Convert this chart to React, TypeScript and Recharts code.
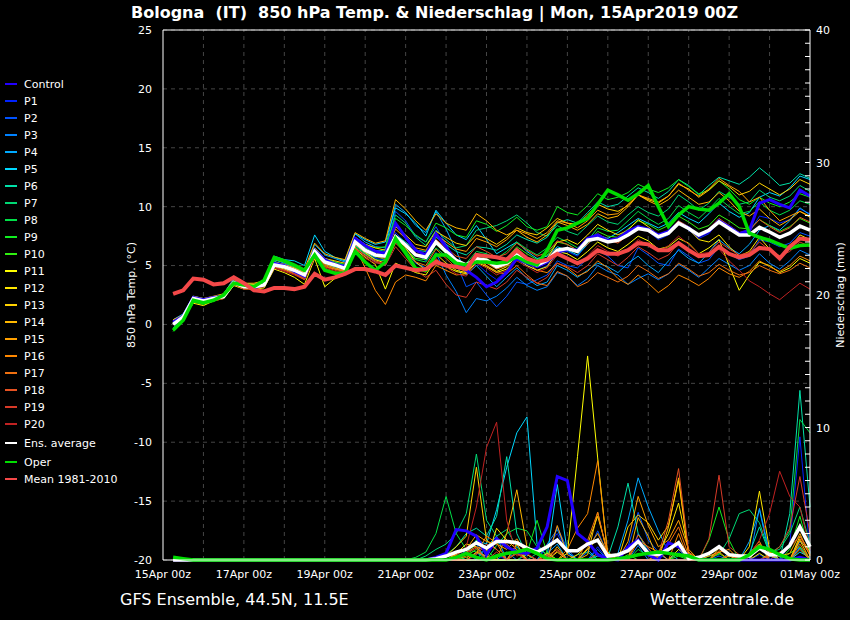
import React from "react";
import {
  ComposedChart,
  Line,
  XAxis,
  YAxis,
  CartesianGrid,
  ReferenceLine,
  Legend,
} from "recharts";

// forecast steps (hours after 15Apr 00z)
const HOURS = [
  6, 12, 18, 24, 30, 36, 42, 48, 54, 60, 66, 72, 78, 84, 90, 96,
  102, 108, 114, 120, 126, 132, 138, 144, 150, 156, 162, 168, 174, 180, 186, 192,
  198, 204, 210, 216, 222, 228, 234, 240, 246, 252, 258, 264, 270, 276, 282, 288,
  294, 300, 306, 312, 318, 324, 330, 336, 342, 348, 354, 360, 366, 372, 378, 384,
];
const DAY_LINES = [24, 48, 72, 96, 120, 144, 168, 192, 216, 240, 264, 288, 312, 336, 360];
const X_TICKS = [0, 48, 96, 144, 192, 240, 288, 336, 384];
const X_LABELS = [
  "15Apr 00z", "17Apr 00z", "19Apr 00z", "21Apr 00z", "23Apr 00z",
  "25Apr 00z", "27Apr 00z", "29Apr 00z", "01May 00z",
];
const TEMP_TICKS = [-20, -15, -10, -5, 0, 5, 10, 15, 20, 25];
const PRECIP_TICKS = Array.from({ length: 41 }, (_, k) => k);

// 850 hPa temperature (°C)
const CONTROL_T = [0.2,0.7,2.3,2.1,2.3,2.4,3.6,3.3, 3.1,3.4,5.2,5.0,4.5,4.1,6.3,5.5, 5.1,4.9,7.3,6.7,6.2,6.0,8.6,7.4, 6.3,5.9,7.7,6.6,5.3,4.6,4.0,3.2, 3.6,4.4,5.6,5.2,4.9,5.3,6.1,6.4, 6.3,7.3,7.6,7.1,7.3,7.9,8.3,8.1, 7.6,7.9,8.6,8.2,7.5,7.9,8.8,8.3, 7.7,8.0,10.3,10.6,10.2,9.9,11.4,10.9];
const P1_T = [0.3,0.8,2.3,2.1,2.2,2.4,3.6,3.2, 3.1,3.4,5.1,4.8,4.5,4.0,6.0,5.2, 4.9,4.6,6.8,6.0,5.6,5.5,7.8,6.9, 6.0,5.4,6.8,6.1,5.0,4.5,5.2,4.4, 3.8,4.6,5.5,5.0,4.6,5.0,6.0,6.2, 5.8,6.9,7.4,7.0,7.1,7.7,8.4,7.9, 7.2,7.6,8.8,8.0,7.3,7.7,8.9,8.2, 7.5,7.8,9.2,9.0,8.6,8.9,9.8,9.4];
const P2_T = [0.1,0.6,2.1,1.9,2.3,2.4,3.5,3.3, 3.3,3.5,5.3,5.1,4.8,4.4,6.5,5.6, 5.3,5.0,7.4,6.8,6.3,6.2,9.6,8.8, 7.5,7.0,8.3,6.8,5.2,3.2,3.6,2.5, 1.5,2.4,3.6,3.4,3.8,4.2,5.4,5.0, 4.8,5.6,6.3,5.8,5.0,4.8,6.5,5.9, 5.2,5.0,6.4,5.8,5.2,5.5,6.6,6.0, 5.5,5.8,7.2,7.0,6.6,6.9,7.8,7.5];
const P3_T = [0.2,0.7,2.2,2.0,2.1,2.3,3.5,3.1, 3.0,3.2,4.9,4.7,4.4,4.1,6.1,5.1, 4.8,4.4,6.5,5.9,5.3,5.0,7.0,6.2, 5.2,4.8,6.1,4.2,2.8,1.0,2.2,2.0, 2.4,3.1,4.0,3.3,2.9,3.2,4.4,4.1, 3.3,3.9,5.0,4.5,4.2,3.4,3.9,4.3, 3.8,4.3,5.1,4.6,4.0,4.8,5.6,5.1, 4.6,5.0,6.0,5.2,4.7,5.4,6.3,5.9];
const P4_T = [0.4,0.9,2.4,2.2,2.3,2.5,3.7,3.3, 3.3,3.5,5.5,5.2,4.9,4.5,6.8,5.9, 5.6,5.3,7.7,7.0,6.6,6.5,10.2,9.5, 8.4,7.8,9.6,8.1,6.3,4.2,5.0,4.1, 3.2,4.0,4.8,3.9,3.3,3.6,5.0,4.6, 4.0,4.6,5.2,4.9,4.4,5.2,5.8,5.0, 4.4,5.4,6.3,5.6,5.2,6.1,7.2,6.5, 6.0,6.8,8.0,8.4,8.0,8.8,9.9,9.3];
const P5_T = [0.0,0.6,2.0,1.9,2.2,2.6,3.9,3.5, 3.4,3.6,5.8,5.5,5.4,5.0,7.6,6.2, 5.7,5.4,7.7,7.2,6.8,7.0,9.9,9.4, 8.6,7.5,9.7,8.6,7.6,7.2,8.4,7.2, 6.0,6.5,7.0,6.2,5.6,5.8,6.6,6.3, 5.9,6.8,7.6,7.3,7.8,8.4,9.0,8.6, 8.2,8.6,9.5,9.0,8.6,9.4,10.3,9.6, 9.1,9.5,10.8,11.2,10.9,11.6,12.6,12.3];
const P6_T = [-0.3,0.5,2.1,1.9,2.1,2.3,3.4,3.1, 3.1,3.3,5.0,4.8,4.4,4.0,6.0,5.2, 4.9,4.7,6.7,6.1,5.7,5.9,7.6,7.0, 6.3,6.2,7.4,6.8,6.2,5.9,6.6,6.5, 6.3,6.8,7.6,7.2,6.9,7.4,8.6,8.9, 8.6,9.5,10.4,10.0,10.2,10.9,11.6,11.2, 10.7,11.3,12.3,11.8,11.0,11.8,12.5,12.2, 11.9,12.5,13.3,12.6,11.8,12.0,12.8,12.4];
const P7_T = [-0.4,0.4,2.0,1.8,2.0,2.4,3.5,3.2, 3.2,3.6,5.4,5.0,4.7,4.3,6.3,5.4, 5.1,4.8,7.1,6.5,6.1,6.4,9.3,8.6, 7.4,6.7,8.0,7.2,6.5,6.7,8.0,8.2, 8.4,8.8,9.3,8.6,7.8,7.5,8.4,7.9, 7.6,8.4,9.2,8.7,8.5,9.3,10.0,9.5, 9.2,9.8,11.0,10.4,9.7,10.3,11.3,10.8, 10.2,10.4,11.4,10.8,10.5,10.9,11.8,11.3];
const P8_T = [-0.5,0.3,2.0,1.8,2.1,2.3,3.4,3.2, 3.1,3.5,5.1,4.8,4.5,4.2,6.2,5.1, 4.8,4.5,6.6,6.0,5.5,5.4,7.2,6.3, 5.5,5.3,6.5,5.8,5.0,5.2,6.2,6.0, 5.6,6.2,7.0,6.4,5.9,6.5,7.4,7.0, 6.5,7.1,8.2,7.9,8.0,8.8,9.6,9.0, 8.5,9.0,10.1,9.5,9.0,9.8,10.7,10.0, 9.4,9.6,10.4,9.7,9.3,9.7,10.5,10.2];
const P9_T = [-0.6,0.3,1.9,1.7,2.0,2.4,3.6,3.3, 3.3,3.7,5.5,5.3,4.9,4.5,6.4,5.6, 5.3,5.1,7.3,6.8,6.5,6.6,9.0,8.4, 7.6,7.0,8.6,8.2,7.6,7.4,8.8,8.5, 7.9,8.4,9.1,8.3,8.0,8.3,10.0,9.5, 9.3,10.1,11.1,10.6,10.8,11.2,11.9,11.5, 11.2,11.6,12.3,11.7,11.1,11.4,12.2,11.5, 10.6,10.2,10.8,10.3,10.0,10.4,11.1,10.8];
const P10_T = [-0.4,0.5,2.1,1.9,2.2,2.4,3.5,3.2, 3.3,3.6,5.2,4.9,4.6,4.1,6.1,5.4, 5.1,4.8,6.9,6.3,5.8,5.5,7.2,6.4, 5.6,5.5,6.8,6.0,5.4,5.1,5.9,5.6, 5.1,5.6,6.6,6.0,5.5,5.9,7.0,6.8, 6.3,6.9,7.9,7.5,7.4,8.1,8.8,8.5, 8.0,8.4,9.2,8.7,8.1,8.4,9.3,8.8, 8.2,8.1,8.9,8.4,7.9,8.3,9.0,8.6];
const P11_T = [0.1,0.5,1.8,1.6,2.0,2.2,3.3,3.0, 3.0,3.1,4.7,4.4,4.0,3.4,5.6,3.2, 3.9,4.2,6.4,5.7,5.1,3.0,5.2,4.8, 4.4,4.2,5.5,4.9,4.5,4.3,5.3,4.9, 4.4,4.7,5.6,5.0,4.6,4.9,6.2,6.0, 5.5,6.2,7.0,6.5,6.2,6.8,7.5,7.1, 6.4,6.6,7.3,6.9,6.0,6.5,7.2,5.0, 2.9,4.2,5.3,5.0,4.4,4.8,5.6,5.2];
const P12_T = [0.2,0.7,2.2,1.9,2.1,2.3,3.6,3.2, 3.2,3.3,5.0,4.7,4.3,3.8,5.8,4.9, 4.7,4.5,6.8,6.1,5.5,5.2,7.4,6.5, 5.3,4.6,6.0,5.2,4.6,4.4,5.8,5.0, 4.5,4.9,5.8,5.4,5.1,5.6,7.0,7.2, 6.8,7.6,8.5,8.0,7.6,8.0,8.9,8.3, 7.6,7.9,8.7,8.1,7.2,7.0,7.6,6.6, 5.8,6.2,7.4,6.4,5.8,6.5,7.6,7.2];
const P13_T = [0.3,0.7,2.3,2.1,2.3,2.4,3.7,3.4, 3.4,3.6,5.3,5.1,4.8,4.4,6.5,5.6, 5.4,5.2,7.4,6.8,6.5,6.3,8.3,7.6, 6.8,6.6,7.9,7.4,6.9,6.7,7.6,7.3, 6.8,7.4,8.2,7.8,7.6,8.2,9.0,8.6, 8.5,9.3,10.2,9.8,9.6,10.1,11.0,10.6, 10.3,10.9,11.9,11.5,10.8,11.4,12.2,11.7, 11.0,11.3,12.0,11.5,11.0,11.5,12.3,11.9];
const P14_T = [0.4,0.8,2.4,2.2,2.4,2.6,3.8,3.5, 3.5,3.7,5.6,5.3,5.0,4.7,6.9,6.0, 5.7,5.5,7.8,7.3,6.9,7.1,10.6,9.8, 8.8,8.0,9.4,8.6,8.2,8.0,9.4,8.8, 8.0,7.6,8.0,7.4,7.0,7.6,8.7,8.4, 8.0,8.5,9.4,9.0,9.2,10.0,11.0,10.5, 10.1,10.6,11.4,10.8,10.2,10.4,11.2,10.5, 9.6,9.2,9.8,9.0,8.4,8.9,9.6,9.1];
const P15_T = [0.3,0.6,2.2,2.0,2.2,2.5,3.7,3.3, 3.2,3.4,5.2,5.0,4.7,4.2,6.3,5.5, 5.2,4.9,7.2,6.6,6.2,6.0,8.1,7.3, 6.5,6.3,7.6,7.0,6.4,6.2,7.3,7.0, 6.6,7.2,8.0,7.7,7.3,7.8,8.8,8.6, 8.2,8.8,9.7,9.3,9.4,10.2,11.0,10.7, 10.4,10.9,12.0,11.4,10.9,11.5,12.4,11.8, 11.3,10.4,10.8,9.7,8.8,9.2,9.6,9.2];
const P16_T = [0.2,0.6,2.1,1.9,2.1,2.3,3.5,3.2, 3.2,3.3,5.0,4.8,4.4,4.0,5.9,5.1, 4.8,4.6,6.6,4.8,2.9,1.7,3.6,4.2, 4.0,3.7,5.0,4.6,4.2,4.3,5.6,5.2, 4.7,5.0,5.9,5.3,4.6,4.4,5.2,4.8, 4.1,4.5,5.4,4.8,3.9,3.4,4.2,3.5, 2.7,3.3,4.2,3.8,3.3,3.9,4.8,4.3, 4.0,4.5,5.4,4.9,4.5,5.0,5.8,5.4];
const P17_T = [0.1,0.5,2.0,1.8,2.1,2.3,3.4,3.1, 3.1,3.3,4.9,4.6,4.3,3.9,5.9,5.0, 4.7,4.5,6.5,5.9,5.4,5.1,6.9,6.1, 5.3,5.0,6.4,5.6,4.8,4.5,5.4,5.0, 4.4,4.3,5.0,4.2,3.5,3.3,4.5,4.1, 3.2,3.6,4.4,4.0,3.6,4.1,5.0,4.5, 3.9,4.3,5.2,4.7,4.1,4.4,5.1,4.6, 4.2,4.4,5.0,4.6,4.3,4.6,5.2,4.8];
const P18_T = [0.0,0.5,2.0,1.8,2.0,2.3,3.5,3.1, 3.2,3.4,5.0,4.8,4.5,4.1,6.0,5.3, 5.0,4.7,6.8,6.2,5.8,5.6,7.6,6.8, 6.0,5.8,7.2,6.5,5.8,5.6,6.6,6.2, 5.7,6.0,6.9,6.3,5.8,6.1,7.1,6.8, 6.3,6.8,7.7,7.2,6.9,7.6,8.4,7.9, 7.4,7.9,8.8,8.3,7.6,8.1,9.0,8.4, 7.8,8.0,8.9,8.3,7.8,8.2,9.1,8.7];
const P19_T = [0.1,0.6,2.1,1.9,2.1,2.4,3.5,3.2, 3.1,3.3,4.8,4.6,4.3,3.9,5.8,4.9, 4.6,4.4,6.4,5.8,5.3,5.0,6.6,5.6, 4.6,4.0,4.6,3.4,2.5,2.3,3.6,3.3, 3.0,3.6,4.6,4.0,3.5,4.0,5.2,4.9, 4.4,5.0,6.0,5.5,5.0,5.7,6.6,6.1, 5.5,5.9,6.9,6.3,5.7,6.1,7.0,6.4, 5.9,6.1,7.0,6.3,5.8,6.2,7.0,6.6];
const P20_T = [0.0,0.5,2.1,1.8,2.0,2.2,3.4,3.0, 3.0,3.2,4.8,4.5,4.2,3.8,5.7,4.8, 4.5,4.3,6.2,5.6,5.2,5.3,7.3,6.0, 4.8,4.4,5.6,4.9,4.3,4.1,5.2,4.8, 4.2,4.6,5.4,4.9,4.4,4.8,5.9,5.6, 5.2,5.8,6.7,6.2,5.8,6.4,7.2,6.7, 6.2,6.7,7.5,6.8,6.0,6.1,6.4,5.4, 4.6,3.7,3.2,2.6,2.1,2.8,3.5,3.0];
const AVG_T = [0.0,0.65,2.2,2.0,2.2,2.35,3.55,3.2, 3.2,3.35,5.05,4.9,4.6,4.2,6.2,5.3, 5.05,4.75,7.0,6.3,5.9,5.8,7.45,6.75, 5.9,5.7,7.0,6.2,5.45,5.05,5.6,5.45, 4.9,5.2,5.9,5.45,5.05,5.45,6.3,6.45, 6.2,7.15,7.3,7.0,7.15,7.6,8.15,8.0, 7.45,7.75,8.6,8.15,7.6,8.0,8.7,8.15, 7.6,7.6,8.25,7.85,7.4,7.75,8.35,8.0];
const OPER_T = [-0.5,0.35,2.05,1.85,2.05,2.5,3.5,3.35, 3.2,3.75,5.7,5.4,5.05,4.6,5.9,4.6, 4.35,4.35,6.2,5.3,4.6,5.3,7.3,6.05, 4.75,4.6,5.9,5.9,5.2,5.05,5.3,5.3, 5.2,5.3,5.75,5.3,5.05,6.3,8.0,8.2, 8.6,9.0,10.2,11.4,11.0,10.55,11.1,11.8, 10.0,8.3,9.3,10.0,9.8,9.7,10.3,11.1, 10.0,7.75,7.4,7.15,6.8,6.45,6.7,6.75];
const MEAN_T = [2.6,2.9,3.9,3.8,3.4,3.5,4.0,3.5, 2.9,2.8,3.1,3.1,3.0,3.2,4.3,3.8, 4.0,4.3,4.7,4.7,4.5,4.2,5.0,4.8, 4.6,4.7,5.3,5.0,4.9,4.7,5.9,5.8, 5.7,5.5,6.3,5.6,5.3,5.5,6.0,5.6, 5.2,5.6,6.3,6.0,6.0,6.3,6.9,6.8, 6.3,6.3,6.9,6.3,5.8,5.9,6.6,6.0, 5.7,5.9,6.5,6.4,5.6,6.6,7.3,7.2];

// precipitation (mm / 6h)
const CONTROL_P = [0,0,0,0,0,0,0,0, 0,0,0,0,0,0,0,0, 0,0,0,0,0,0,0,0, 0,0,0.2,0.5,2.3,2.2,1.8,0.4, 1.6,1.0,0.6,0.5,0.9,2.5,6.3,6.0, 2.0,1.4,0.4,0.1,0,1.0,1.5,0.4, 0,1.3,1.0,0.3,0,0,0,0, 0,0,0,0,0,0,0.2,0];
const P1_P = [0,0,0,0,0,0,0,0, 0,0,0,0,0,0,0,0, 0,0,0,0,0,0,0,0, 0,0,0,0,0.3,0.6,0,0, 0.4,0,0,0,0,1.0,2.0,0.5, 0,0,1.0,0,0,0,2.0,0.8, 0,0,0.6,0,0,0,0,0, 0,0,0.4,0,0,1.2,9.3,0.5];
const P2_P = [0,0,0,0,0,0,0,0, 0,0,0,0,0,0,0,0, 0,0,0,0,0,0,0,0, 0,0,0,0,0,0,0.5,0.3, 0,0,1.0,0.4,0,0,2.5,0.8, 0,0.6,2.2,0.4,0,1.0,3.6,1.5, 0.6,0,0.8,0,0,0,0.3,0, 0,0,1.2,0,0,0,1.0,0];
const P3_P = [0,0,0,0,0,0,0,0, 0,0,0,0,0,0,0,0, 0,0,0,0,0,0,0,0, 0,0,0,0,0,0.8,1.2,0, 0,0.6,0,0.4,0,1.2,2.3,0.6, 0,0,0.8,0,0,0,1.1,0, 0.5,0,0,0,0,0,0,0, 0.4,0,3.9,0.6,0,0,1.4,0.8];
const P4_P = [0,0,0,0,0,0,0,0, 0,0,0,0,0,0,0,0, 0,0,0,0,0,0,0,0, 0,0,0,0,0.4,0,0,1.0, 1.8,0,0.6,0,0,0.5,1.2,0, 0,0.8,0,0,0.5,3.0,6.2,4.0, 2.2,0.6,0,0,0,0,0,0.5, 0,1.4,3.8,0.3,0,0,0.9,0];
const P5_P = [0,0,0,0,0,0,0,0, 0,0,0,0,0,0,0,0, 0,0,0,0,0,0,0,0, 0,0,0,0,0,0.5,1.5,1.2, 3.8,7.0,9.6,10.8,1.2,0.3,5.7,0.6, 0,0,0.5,0,0,0,0,0, 0,0,0,0,0,0,0,0, 0,0,0,0,0,0,0.6,0.2];
const P6_P = [0,0,0,0,0,0,0,0, 0,0,0,0,0,0,0,0, 0,0,0,0,0,0,0,0, 0,0,0,0.4,1.0,2.0,2.4,1.8, 3.3,7.8,2.0,0.4,0,0,0,0, 0,0,0.3,0.2,2.5,5.8,2.0,0.6, 0,0,0,0,0,0,0,0, 0,0.5,2.5,0.5,0,3.5,12.8,4.0];
const P7_P = [0,0,0,0,0,0,0,0, 0,0,0,0,0,0,0,0, 0,0,0,0,0,0,0,0, 0,0.3,0.8,1.2,2.0,3.5,8.0,3.0, 1.8,2.3,1.0,0,0.5,0,0,0, 0.4,0.6,0,0,0,0,0,0, 0,0,0,0,0,0.3,0.4,1.6, 3.5,3.8,2.8,0.6,0.8,2.0,4.0,1.2];
const P8_P = [0,0,0,0,0,0,0,0, 0,0,0,0,0,0,0,0, 0,0,0,0,0,0,0,0, 0.2,0.6,2.0,4.8,2.0,0.8,0.6,0, 1.1,2.0,2.4,2.2,1.0,0.4,0,0, 0,0,0,0,0,0,0.8,0.3, 0,0,0,0,0,0,0,0, 0,0,0,0.5,1.0,2.2,10.6,9.6];
const P9_P = [0,0,0,0,0,0,0,0, 0,0,0,0,0,0,0,0, 0,0,0,0,0,0,0,0, 0,0,0,0,0.3,0,1.5,0.8, 0,0,0,0.5,3.0,0.5,0,0, 0,0,0,0,0,0,0,0, 0,0,0.3,0,0,1.5,4.0,1.5, 0,0,0,0,0,0.8,3.3,0.5];
const P10_P = [0,0,0,0,0,0,0,0, 0,0,0,0,0,0,0,0, 0,0,0,0,0,0,0,0, 0,0,0,0,0,0.3,0.8,0, 0,0,0.5,0,0,0.6,0,0, 0,0,0,0,0,0.4,0,0, 0,0,0.5,0,0,0,0.5,0, 0,0,0,0,0,0.5,1.0,0];
const P11_P = [0,0,0,0,0,0,0,0, 0,0,0,0,0,0,0,0, 0,0,0,0,0,0,0,0, 0,0,0,0,0,0,0,0, 0,0,0,0,0,0,0,0.5, 7.8,15.4,7.7,0.3,0,0,0,0, 0,0,0.8,0.3,0,0,0,0, 0,0,0.5,0,0,0,0,0];
const P12_P = [0,0,0,0,0,0,0,0, 0,0,0,0,0,0,0,0, 0,0,0,0,0,0,0,0, 0,0,0,0,0.5,1.2,1.0,0, 2.4,1.5,0.8,0,0,0,0.6,0, 0,0.8,1.6,0,0,0,0,0, 0.5,2.0,4.3,0.6,0,0,0,0, 0,1.0,5.2,0.8,0,0,1.8,0.6];
const P13_P = [0,0,0,0,0,0,0,0, 0,0,0,0,0,0,0,0, 0,0,0,0,0,0,0,0, 0,0,0,0.3,1.0,1.8,7.0,1.5, 0.8,0,1.2,0,0,0.5,0,0, 0.4,1.2,3.3,0.6,0,2.5,3.4,2.8, 1.5,2.6,6.0,0.4,0,0,0.9,0.3, 0,0,0,0.4,0,0,1.5,0];
const P14_P = [0,0,0,0,0,0,0,0, 0,0,0,0,0,0,0,0, 0,0,0,0,0,0,0,0, 0,0,0,0,0,0,0.6,0.3, 0,2.0,5.3,1.0,0.5,0,1.0,0, 0,0.4,3.6,0.3,0,0,3.2,1.8, 0,2.5,6.2,0.5,0,0,0,0.3, 0.4,0,1.2,0.6,0.3,0.5,2.0,0.3];
const P15_P = [0,0,0,0,0,0,0,0, 0,0,0,0,0,0,0,0, 0,0,0,0,0,0,0,0, 0,0,0,0,0.4,0.8,1.9,1.4, 1.2,0.8,1.6,0.4,0,0,2.6,0.4, 0,0.9,2.0,0.5,0,1.4,4.8,2.6, 1.0,1.5,3.0,0.8,0,0.3,0.6,0, 0,0.5,1.2,0,0,0,1.6,0.4];
const P16_P = [0,0,0,0,0,0,0,0, 0,0,0,0,0,0,0,0, 0,0,0,0,0,0,0,0, 0,0,0,0.5,0.3,0.2,0.5,1.8, 1.3,0,1.2,0.9,0.4,0,0,0.8, 2.4,3.5,7.5,0.3,0,0,1.5,1.0, 0.6,0,2.0,0,0,0,0.6,0.8, 0,0.5,1.4,0,0,0,0.8,0];
const P17_P = [0,0,0,0,0,0,0,0, 0,0,0,0,0,0,0,0, 0,0,0,0,0,0,0,0, 0,0,0,0,0,0.6,1.0,0.7, 1.5,1.2,0.5,0,0,0.3,0.8,0, 0,1.5,3.6,0.4,0,0,1.9,0.9, 0,1.2,2.5,0.3,0,0,0.7,0.5, 0,0,0,0.3,0.5,0,1.2,0];
const P18_P = [0,0,0,0,0,0,0,0, 0,0,0,0,0,0,0,0, 0,0,0,0,0,0,0,0, 0,0,0,0,0,0,0.4,1.2, 0.8,0,0.6,0,0,0,0.7,0, 0,0,0.5,0,0,0,0,0, 0.4,3.0,6.9,0.6,0,0,0,0.4, 0,0,0,0,0.6,1.0,1.8,0.5];
const P19_P = [0,0,0,0,0,0,0,0, 0,0,0,0,0,0,0,0, 0,0,0,0,0,0,0,0, 0,0,0,0,0,0.5,0.9,0, 0.6,0,0.5,0,0,0.4,0,0, 0,0,0,0,0,0,0,0, 0,0,0,0,0,1.6,6.4,1.0, 0.4,0,0,0.4,1.0,2.4,6.3,2.0];
const P20_P = [0,0,0,0,0,0,0,0, 0,0,0,0,0,0,0,0, 0,0,0,0,0,0,0,0, 0,0,0,0,0.3,1.0,4.0,8.5, 10.4,3.0,0.3,0.5,0,0,0,0, 0,0,0,0,0,0,0,0, 0,0,0,0,0,0,0,0, 0,0.4,1.5,3.5,6.7,4.8,4.0,0.8];
const AVG_P = [0,0,0,0,0,0,0,0, 0,0,0,0,0,0,0,0, 0,0,0,0,0,0,0,0, 0,0,0.1,0.3,0.6,0.8,1.3,0.9, 1.4,1.4,1.3,0.9,0.6,1.0,1.5,0.7, 0.7,1.2,1.5,0.3,0.4,0.7,1.4,0.5, 0.4,0.8,1.3,0.1,0.2,0.5,1.0,0.4, 0.3,0.3,0.9,0.4,0.4,1.1,2.5,1.0];
const OPER_P = [0.2,0.1,0,0,0,0,0,0, 0,0,0,0,0,0,0,0, 0,0,0,0,0,0,0,0, 0,0,0,0,0.2,0.5,0.2,0, 0.3,0.5,0.6,0.8,0.5,0.1,0,0, 0,0,0,0,0.1,0.2,0.4,0.5, 0.6,0.5,0.4,0.3,0,0,0,0, 0,0.4,1.0,0.8,0.4,0.1,0,0];

type Series = { key: string; name: string; color: string; width: number; t: number[]; p: number[] | null };

const SERIES: Series[] = [
  { key: "control", name: "Control", color: "#2200ff", width: 3, t: CONTROL_T, p: CONTROL_P },
  { key: "p1", name: "P1", color: "#0022ff", width: 1, t: P1_T, p: P1_P },
  { key: "p2", name: "P2", color: "#0052ff", width: 1, t: P2_T, p: P2_P },
  { key: "p3", name: "P3", color: "#0082ff", width: 1, t: P3_T, p: P3_P },
  { key: "p4", name: "P4", color: "#00aaff", width: 1, t: P4_T, p: P4_P },
  { key: "p5", name: "P5", color: "#00d8ff", width: 1, t: P5_T, p: P5_P },
  { key: "p6", name: "P6", color: "#00e0a8", width: 1, t: P6_T, p: P6_P },
  { key: "p7", name: "P7", color: "#00d874", width: 1, t: P7_T, p: P7_P },
  { key: "p8", name: "P8", color: "#00e048", width: 1, t: P8_T, p: P8_P },
  { key: "p9", name: "P9", color: "#10ee20", width: 1, t: P9_T, p: P9_P },
  { key: "p10", name: "P10", color: "#30f010", width: 1, t: P10_T, p: P10_P },
  { key: "p11", name: "P11", color: "#ffff00", width: 1, t: P11_T, p: P11_P },
  { key: "p12", name: "P12", color: "#ffe800", width: 1, t: P12_T, p: P12_P },
  { key: "p13", name: "P13", color: "#ffd200", width: 1, t: P13_T, p: P13_P },
  { key: "p14", name: "P14", color: "#ffb800", width: 1, t: P14_T, p: P14_P },
  { key: "p15", name: "P15", color: "#ffa000", width: 1, t: P15_T, p: P15_P },
  { key: "p16", name: "P16", color: "#ff8800", width: 1, t: P16_T, p: P16_P },
  { key: "p17", name: "P17", color: "#f07010", width: 1, t: P17_T, p: P17_P },
  { key: "p18", name: "P18", color: "#e65222", width: 1, t: P18_T, p: P18_P },
  { key: "p19", name: "P19", color: "#d83a28", width: 1, t: P19_T, p: P19_P },
  { key: "p20", name: "P20", color: "#c02222", width: 1, t: P20_T, p: P20_P },
  { key: "avg", name: "Ens. average", color: "#ffffff", width: 3.5, t: AVG_T, p: AVG_P },
  { key: "oper", name: "Oper", color: "#00dd00", width: 3.5, t: OPER_T, p: OPER_P },
  { key: "mean", name: "Mean 1981-2010", color: "#f44848", width: 4, t: MEAN_T, p: null },
];

// members first, then the thick lines on top
const DRAW_ORDER = [...SERIES.slice(1, 21), ...SERIES.slice(0, 1), ...SERIES.slice(21)];

const rows = HOURS.map((h, i) => {
  const r: Record<string, number> = { h };
  SERIES.forEach((s) => {
    r[s.key + "T"] = s.t[i];
    if (s.p) r[s.key + "P"] = s.p[i];
  });
  return r;
});

const GRID = "#454545";

const LegendBox = () => (
  <div style={{ position: "relative", width: 130, height: 500 }}>
    {SERIES.map((s, k) => {
      const cy = k < 21 ? 84 + 17 * k : [443, 462, 479][k - 21];
      return (
        <div key={s.key} style={{ position: "absolute", left: 0, top: cy - 7, height: 14, display: "flex", alignItems: "center" }}>
          <span style={{ display: "inline-block", marginLeft: 5, width: 12, height: 2, background: s.color }} />
          <span style={{ marginLeft: 7, color: "#fff", fontSize: 11, whiteSpace: "nowrap" }}>{s.name}</span>
        </div>
      );
    })}
  </div>
);

const PrecipTick = (props: any) => {
  const { x, y, payload } = props;
  const v = payload.value;
  return (
    <g>
      <line x1={x - 11} x2={x - 6} y1={y} y2={y} stroke="#fff" strokeWidth={1} />
      {v % 10 === 0 ? (
        <text x={x} y={y} dy={4} fill="#fff" fontSize={11}>
          {v}
        </text>
      ) : null}
    </g>
  );
};

const App = () => {
  return (
    <div
      style={{
        position: "absolute",
        left: 0,
        top: 0,
        width: 850,
        height: 620,
        background: "#000",
        fontFamily: "'DejaVu Sans', sans-serif",
        color: "#fff",
        overflow: "hidden",
      }}
    >
      <div style={{ position: "absolute", left: 131, top: 4, fontSize: 16, fontWeight: "bold", whiteSpace: "pre", lineHeight: "18px" }}>
        {"Bologna  (IT)  850 hPa Temp. & Niederschlag | Mon, 15Apr2019 00Z"}
      </div>
      <ComposedChart width={850} height={620} data={rows} margin={{ top: 30, right: 0, bottom: 20, left: 118 }}>
        <CartesianGrid yAxisId="temp" vertical={false} stroke={GRID} strokeDasharray="4 4" />
        {DAY_LINES.map((d) => (
          <ReferenceLine key={d} yAxisId="temp" x={d} stroke={GRID} strokeDasharray="4 4" />
        ))}
        <XAxis
          dataKey="h"
          type="number"
          domain={[0, 384]}
          ticks={X_TICKS}
          interval={0}
          tickFormatter={(v) => X_LABELS[X_TICKS.indexOf(v)]}
          tickLine={false}
          tickSize={0}
          tickMargin={10}
          axisLine={{ stroke: "#fff" }}
          tick={{ fill: "#fff", fontSize: 11 }}
          height={40}
          label={{ value: "Date (UTC)", position: "insideBottom", offset: 2, fill: "#fff", fontSize: 11 }}
        />
        <YAxis
          yAxisId="temp"
          orientation="left"
          domain={[-20, 25]}
          ticks={TEMP_TICKS}
          interval={0}
          width={45}
          tickLine={false}
          tickSize={0}
          tickMargin={11}
          axisLine={{ stroke: "#fff" }}
          tick={{ fill: "#fff", fontSize: 11 }}
          label={{ value: "850 hPa Temp. (°C)", angle: -90, position: "insideLeft", offset: 13, fill: "#fff", fontSize: 11, style: { textAnchor: "middle" } }}
        />
        <YAxis
          yAxisId="precip"
          orientation="right"
          domain={[0, 40]}
          ticks={PRECIP_TICKS}
          interval={0}
          width={40}
          tickLine={false}
          tickSize={0}
          tickMargin={6}
          axisLine={{ stroke: "#fff" }}
          tick={<PrecipTick />}
          label={{ value: "Niederschlag (mm)", angle: -90, position: "insideRight", offset: 10, fill: "#fff", fontSize: 11, style: { textAnchor: "middle" } }}
        />
        <ReferenceLine yAxisId="temp" y={25} stroke="#fff" />
        {DRAW_ORDER.filter((s) => s.p).map((s) => (
          <Line
            key={s.key + "P"}
            yAxisId="precip"
            dataKey={s.key + "P"}
            stroke={s.color}
            strokeWidth={s.width}
            dot={false}
            activeDot={false}
            isAnimationActive={false}
          />
        ))}
        {DRAW_ORDER.map((s) => (
          <Line
            key={s.key + "T"}
            yAxisId="temp"
            dataKey={s.key + "T"}
            stroke={s.color}
            strokeWidth={s.width}
            dot={false}
            activeDot={false}
            isAnimationActive={false}
          />
        ))}
        <Legend
          layout="vertical"
          align="center"
          verticalAlign="middle"
          content={() => <LegendBox />}
          wrapperStyle={{ left: 0, top: 0, width: 130, height: 500 }}
        />
      </ComposedChart>
      <div style={{ position: "absolute", left: 120, top: 590, fontSize: 16, whiteSpace: "pre" }}>GFS Ensemble, 44.5N, 11.5E</div>
      <div style={{ position: "absolute", left: 650, top: 590, fontSize: 16, whiteSpace: "pre" }}>Wetterzentrale.de</div>
    </div>
  );
};

export default App;
